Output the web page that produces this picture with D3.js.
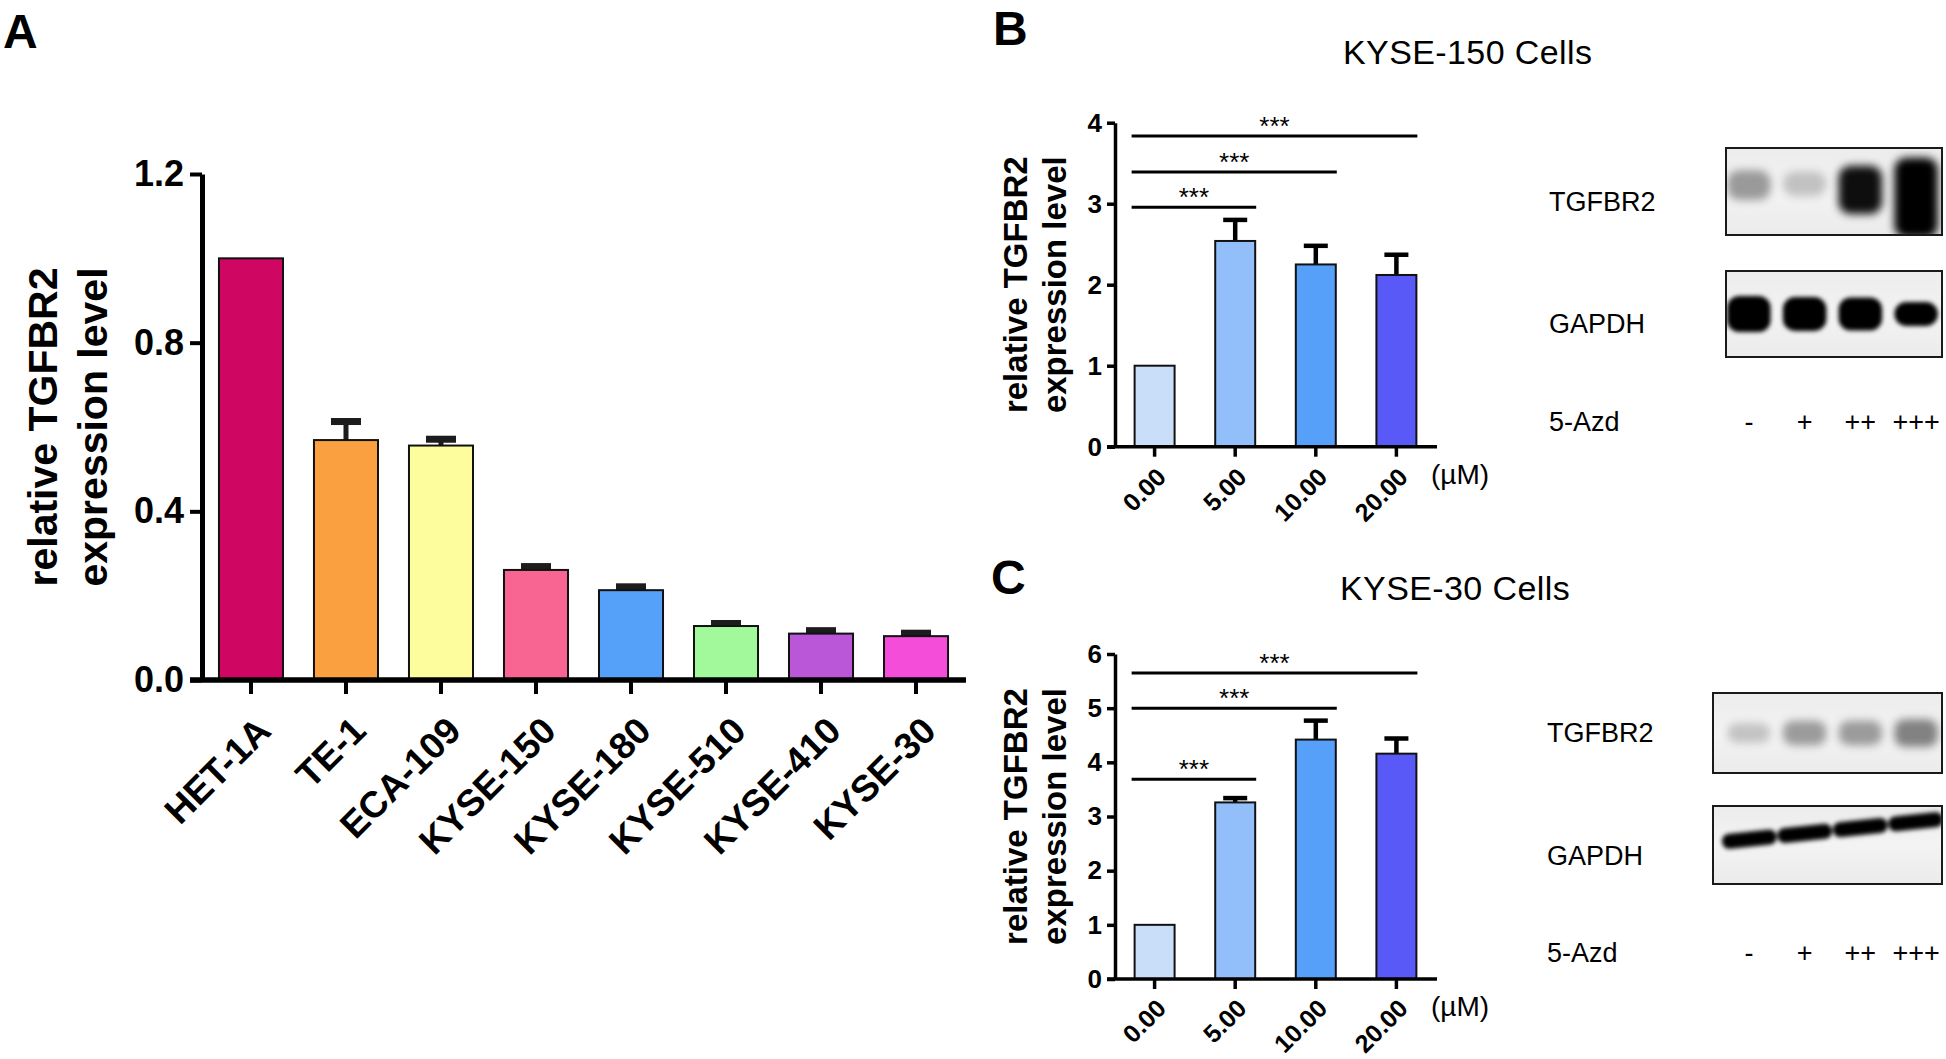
<!DOCTYPE html>
<html><head><meta charset="utf-8">
<script src="https://cdn.jsdelivr.net/npm/d3@7"></script>
<style>
body{margin:0;background:#fff;}
svg{display:block;}
</style></head><body>
<svg id="fig" width="1946" height="1059"></svg>
<script>
// ---------- Panel A data ----------
const cellLines  = ["HET-1A","TE-1","ECA-109","KYSE-150","KYSE-180","KYSE-510","KYSE-410","KYSE-30"];
const cellMeans  = [1.0, 0.569, 0.556, 0.261, 0.213, 0.128, 0.110, 0.104];
const cellErrors = [0, 0.044, 0.015, 0.008, 0.008, 0.006, 0.007, 0.007];
const cellColors = ["#CF0762","#FBA040","#FDFD9D","#F96592","#55A1F9","#A1F99C","#B957D8","#F34DD9"];
const cellTicks  = [0, 0.4, 0.8, 1.2];

// ---------- Panels B / C data ----------
const doses      = ["0.00","5.00","10.00","20.00"];
const doseColors = ["#C9DFF9","#92BFF9","#56A0F9","#5959F8"];
const k150Means  = [1.0, 2.54, 2.25, 2.12];
const k150Errors = [0, 0.26, 0.23, 0.25];
const k150Ticks  = [0, 1, 2, 3, 4];
const k150SigTo  = [1, 2, 3];
const k150SigY   = [2.955, 3.39, 3.836];
const k30Means   = [1.0, 3.26, 4.42, 4.16];
const k30Errors  = [0, 0.08, 0.35, 0.28];
const k30Ticks   = [0, 1, 2, 3, 4, 5, 6];
const k30SigTo   = [1, 2, 3];
const k30SigY    = [3.69, 5.0, 5.65];
const sigLabel   = "***";

// ---------- Western blot data (relative band signal) ----------
const lanes        = ["-","+","++","+++"];
const k150TGFBR2   = [0.26, 0.12, 0.75, 1.6];
const k150GAPDH    = [1.0, 0.93, 0.9, 0.62];
const k30TGFBR2    = [0.22, 0.40, 0.40, 0.52];
const k30GAPDH     = [1.0, 1.0, 1.0, 1.0];

const FONT = '"Liberation Sans", Arial, Helvetica, sans-serif';
const svg = d3.select("#fig");

const defs = svg.append("defs");
defs.append("filter").attr("id","blurBig").attr("x","-50%").attr("y","-50%").attr("width","200%").attr("height","200%")
  .append("feGaussianBlur").attr("stdDeviation",4.5);
defs.append("filter").attr("id","blurSmall").attr("x","-50%").attr("y","-50%").attr("width","200%").attr("height","200%")
  .append("feGaussianBlur").attr("stdDeviation",2.2);
const bg = defs.append("linearGradient").attr("id","blotBg").attr("x1",0).attr("x2",0).attr("y1",0).attr("y2",1);
bg.append("stop").attr("offset","0%").attr("stop-color","#ececec");
bg.append("stop").attr("offset","50%").attr("stop-color","#f3f3f3");
bg.append("stop").attr("offset","100%").attr("stop-color","#ebebeb");

function txt(g, s, x, y, size, weight, anchor) {
  return g.append("text").attr("x", x).attr("y", y).text(s)
    .attr("font-family", FONT).attr("font-size", size).attr("font-weight", weight || "normal")
    .attr("text-anchor", anchor || "start").attr("fill", "#000");
}

function barPanel(c) {
  const g = svg.append("g");
  const x = d3.scaleBand().domain(c.cats).range(c.xRange).paddingInner(c.pi).paddingOuter(c.po);
  const y = d3.scaleLinear().domain(c.yDomain).range(c.yRange);
  const bw = x.bandwidth();
  const cx = d => x(d) + bw / 2;
  const rows = c.cats.map((d, i) => ({ d, m: c.means[i], e: c.errs[i], col: c.colors[i] }));

  const eg = g.selectAll("g.err").data(rows.filter(r => r.e > 0)).join("g").attr("class","err");
  eg.append("line")
    .attr("x1", r => cx(r.d)).attr("x2", r => cx(r.d))
    .attr("y1", r => y(r.m)).attr("y2", r => y(r.m + r.e))
    .attr("stroke", c.errColor).attr("stroke-width", c.stemW);
  eg.append("rect")
    .attr("x", r => cx(r.d) - c.capW / 2).attr("width", c.capW)
    .attr("y", r => y(r.m + r.e) - c.capT / 2).attr("height", c.capT)
    .attr("fill", c.errColor);

  g.selectAll("rect.bar").data(rows).join("rect").attr("class","bar")
    .attr("x", r => x(r.d)).attr("width", bw)
    .attr("y", r => y(r.m)).attr("height", r => y(0) - y(r.m))
    .attr("fill", r => r.col).attr("stroke", "#111").attr("stroke-width", c.barStroke);

  const ya = g.append("g").attr("transform", `translate(${c.axisX},0)`)
    .call(d3.axisLeft(y).tickValues(c.ticks).tickSize(c.tickLen).tickSizeOuter(0)
      .tickPadding(c.tickPad).tickFormat(c.fmt));
  ya.select(".domain").attr("stroke", "#000").attr("stroke-width", c.axisW);
  ya.selectAll(".tick line").attr("stroke", "#000").attr("stroke-width", c.tickW);
  ya.selectAll(".tick text").attr("font-family", FONT).attr("font-size", c.tickFont)
    .attr("font-weight", "bold").attr("fill", "#000");

  g.append("line").attr("x1", c.axisX - c.tickLen).attr("x2", c.xRange[1] + c.xOver)
    .attr("y1", y(0)).attr("y2", y(0)).attr("stroke", "#000").attr("stroke-width", c.xAxisW);
  g.selectAll("line.xt").data(c.cats).join("line").attr("class","xt")
    .attr("x1", cx).attr("x2", cx).attr("y1", y(0)).attr("y2", y(0) + c.xTickLen)
    .attr("stroke", "#000").attr("stroke-width", c.tickW);

  g.selectAll("text.cat").data(c.cats).join("text").attr("class","cat")
    .attr("transform", d => `translate(${cx(d) + c.lblDx},${y(0) + c.lblDy}) rotate(-45)`)
    .attr("text-anchor", "end").attr("font-family", FONT).attr("font-size", c.lblFont)
    .attr("font-weight", "bold").attr("fill", "#000").text(d => d);

  const cy = (c.yRange[0] + c.yRange[1]) / 2;
  c.yTitle.forEach((s, i) => {
    g.append("text").attr("transform", `translate(${c.titleX[i]},${cy}) rotate(-90)`)
      .attr("text-anchor", "middle").attr("font-family", FONT).attr("font-size", c.titleFont)
      .attr("font-weight", "bold").attr("fill", "#000").text(s);
  });

  if (c.sigTo) {
    c.sigTo.forEach((t, i) => {
      const x1 = x(c.cats[0]) - 3, x2 = x(c.cats[t]) + bw + 1, yy = y(c.sigY[i]);
      g.append("line").attr("x1", x1).attr("x2", x2).attr("y1", yy).attr("y2", yy)
        .attr("stroke", "#000").attr("stroke-width", 3);
      txt(g, sigLabel, (x1 + x2) / 2, yy - 1, 26, "normal", "middle");
    });
  }
  if (c.unit) txt(g, c.unit, c.xRange[1] - 3, y(0) + 37, 28, "normal", "start");
  return { x, y };
}

// ---------- Panel A ----------
barPanel({
  cats: cellLines, means: cellMeans, errs: cellErrors, colors: cellColors, ticks: cellTicks,
  fmt: d3.format(".1f"), xRange: [203, 964], pi: 0.326, po: 0.168,
  yDomain: [0, 1.2], yRange: [680, 174], axisX: 202, axisW: 5, tickLen: 12, tickW: 4,
  tickPad: 6, tickFont: 36, xAxisW: 5.5, xOver: 2, xTickLen: 14, barStroke: 2,
  errColor: "#1c1c1c", stemW: 5, capW: 30, capT: 7,
  lblDx: 22, lblDy: 53, lblFont: 37,
  yTitle: ["relative TGFBR2", "expression level"], titleX: [57, 107], titleFont: 41
});

// ---------- Panel B ----------
barPanel({
  cats: doses, means: k150Means, errs: k150Errors, colors: doseColors, ticks: k150Ticks,
  fmt: d3.format("d"), xRange: [1117, 1434], pi: 0.504, po: 0.2185,
  yDomain: [0, 4], yRange: [446.7, 122.7], axisX: 1115, axisW: 3.5, tickLen: 8, tickW: 3.5,
  tickPad: 5, tickFont: 26, xAxisW: 3.5, xOver: 3, xTickLen: 10, barStroke: 2,
  errColor: "#000", stemW: 4.5, capW: 24, capT: 4.5,
  lblDx: 13, lblDy: 32, lblFont: 25,
  yTitle: ["relative TGFBR2", "expression level"], titleX: [1027, 1066], titleFont: 33,
  sigTo: k150SigTo, sigY: k150SigY, unit: "(µM)"
});

// ---------- Panel C ----------
barPanel({
  cats: doses, means: k30Means, errs: k30Errors, colors: doseColors, ticks: k30Ticks,
  fmt: d3.format("d"), xRange: [1117, 1434], pi: 0.504, po: 0.2185,
  yDomain: [0, 6], yRange: [979, 654], axisX: 1115, axisW: 3.5, tickLen: 8, tickW: 3.5,
  tickPad: 5, tickFont: 26, xAxisW: 3.5, xOver: 3, xTickLen: 10, barStroke: 2,
  errColor: "#000", stemW: 4.5, capW: 24, capT: 4.5,
  lblDx: 13, lblDy: 31, lblFont: 25,
  yTitle: ["relative TGFBR2", "expression level"], titleX: [1027, 1066], titleFont: 33,
  sigTo: k30SigTo, sigY: k30SigY, unit: "(µM)"
});

// ---------- Panel letters & titles ----------
const ann = svg.append("g");
txt(ann, "A", 3, 48, 48, "bold");
txt(ann, "B", 993, 45, 48, "bold");
txt(ann, "C", 991, 594, 48, "bold");
txt(ann, "KYSE-150 Cells", 1343, 64, 34, "normal").attr("letter-spacing", 0.4);
txt(ann, "KYSE-30 Cells", 1340, 600, 34, "normal").attr("letter-spacing", 0.4);

// ---------- Western blots ----------
function blot(c) {
  const g = svg.append("g");
  const lx = d3.scaleBand().domain(lanes).range(c.laneRange);
  const lc = d => lx(d) + lx.bandwidth() / 2;
  [["TGFBR2", c.box1, c.sig1, c.style1], ["GAPDH", c.box2, c.sig2, c.style2]].forEach(([name, b, sig, st], k) => {
    const id = "clip" + c.id + k;
    defs.append("clipPath").attr("id", id).append("rect")
      .attr("x", b[0]).attr("y", b[1]).attr("width", b[2] - b[0]).attr("height", b[3] - b[1]);
    g.append("rect").attr("x", b[0]).attr("y", b[1]).attr("width", b[2] - b[0]).attr("height", b[3] - b[1])
      .attr("fill", "url(#blotBg)");
    const H = b[3] - b[1];
    const op = d3.scaleLinear().domain(st.opDomain).range(st.opRange).clamp(true);
    const hs = d3.scaleLinear().domain(st.hDomain).range(st.hRange);
    const bandsG = g.append("g").attr("clip-path", `url(#${id})`)
      .append("g").attr("transform", st.tilt ? `rotate(${st.tilt},${(b[0] + b[2]) / 2},${b[1] + H * st.cyFrac})` : null)
      .append("g").attr("filter", `url(#${st.filter})`);
    const w = lx.bandwidth() * st.wFrac;
    bandsG.selectAll("rect").data(lanes.map((l, i) => ({ l, v: sig[i] }))).join("rect")
      .attr("x", d => lc(d.l) - w / 2).attr("width", w)
      .attr("y", d => b[1] + H * st.cyFrac + (hs(d.v) - st.hRange[0]) * st.drop - hs(d.v) / 2)
      .attr("height", d => hs(d.v)).attr("rx", st.rx)
      .attr("fill", "#000").attr("opacity", d => op(d.v));
    g.append("rect").attr("x", b[0]).attr("y", b[1]).attr("width", b[2] - b[0]).attr("height", b[3] - b[1])
      .attr("fill", "none").attr("stroke", "#1a1a1a").attr("stroke-width", 2);
    txt(g, name, c.labelX, c.labelY[k], 27, "normal");
  });
  txt(g, "5-Azd", c.labelX, c.labelY[2], 27, "normal");
  g.selectAll("text.lane").data(lanes).join("text").attr("class","lane")
    .attr("x", lc).attr("y", c.labelY[2]).attr("text-anchor", "middle")
    .attr("font-family", FONT).attr("font-size", 27).attr("fill", "#000").text(d => d);
}

blot({
  id: "B", laneRange: [1721, 1944], labelX: 1549, labelY: [211, 333, 431],
  box1: [1726, 148, 1942, 235], box2: [1726, 271, 1942, 357],
  sig1: k150TGFBR2, sig2: k150GAPDH,
  style1: { opDomain: [0, 0.8], opRange: [0.06, 1], hDomain: [0, 1.6], hRange: [20, 80],
            cyFrac: 0.4, drop: 0.25, wFrac: 0.78, rx: 12, filter: "blurBig" },
  style2: { opDomain: [0, 0.5], opRange: [0.2, 1], hDomain: [0, 1], hRange: [4, 36],
            cyFrac: 0.5, drop: 0, wFrac: 0.78, rx: 12, filter: "blurSmall" }
});

blot({
  id: "C", laneRange: [1721, 1944], labelX: 1547, labelY: [742, 865, 962],
  box1: [1713, 693, 1942, 773], box2: [1713, 806, 1942, 884],
  sig1: k30TGFBR2, sig2: k30GAPDH,
  style1: { opDomain: [0, 1], opRange: [0, 0.9], hDomain: [0, 1], hRange: [14, 40],
            cyFrac: 0.5, drop: 0, wFrac: 0.78, rx: 10, filter: "blurBig" },
  style2: { opDomain: [0, 0.5], opRange: [0.2, 1], hDomain: [0, 1], hRange: [4, 15],
            cyFrac: 0.32, drop: 0, wFrac: 0.98, rx: 7, filter: "blurSmall", tilt: -6 }
});
</script>
</body></html>
